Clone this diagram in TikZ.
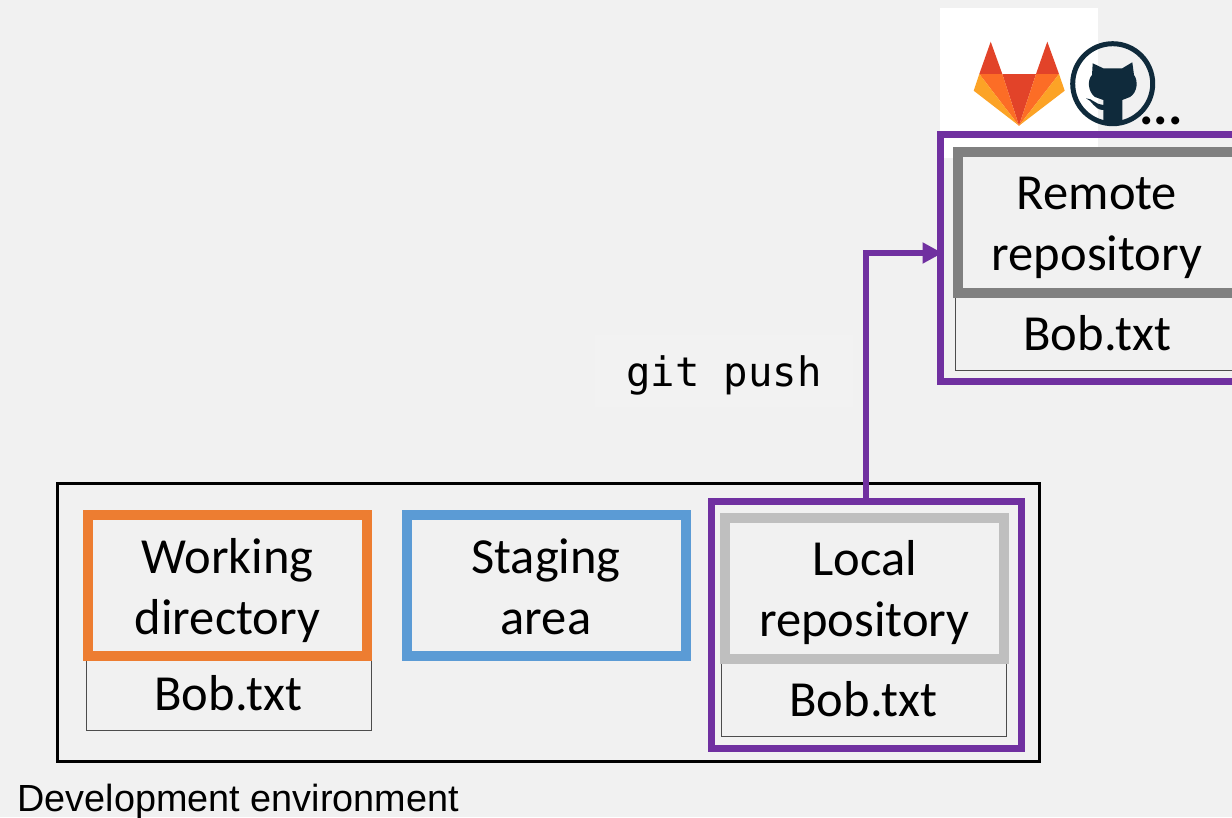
\documentclass[tikz,border=0pt]{standalone}
\usetikzlibrary{arrows.meta}
\usepackage{fontspec}
\setmainfont{Carlito}
\newfontfamily\labelfont{Liberation Sans}
\newfontfamily\cmdfont{DejaVu Sans Mono}
\definecolor{pagebg}{HTML}{F1F1F1}
\definecolor{gitpurple}{HTML}{7030A0}
\definecolor{workorange}{HTML}{ED7D31}
\definecolor{stageblue}{HTML}{5B9BD5}
\definecolor{labred}{HTML}{E24329}
\definecolor{laborange}{HTML}{FC6D26}
\definecolor{labyellow}{HTML}{FCA326}
\definecolor{hubnavy}{HTML}{0F2A3B}
\newcommand{\twolines}[2]{\rule{0pt}{46pt}#1\\#2\rule[-10pt]{0pt}{10pt}}
\begin{document}
\begin{tikzpicture}[x=1pt, y=-1pt,
    stagebox/.style={draw, fill=pagebg, line width=10pt, minimum width=279pt, minimum height=141pt, align=center, inner sep=0pt, font=\fontsize{50.5}{61}\selectfont},
    filebox/.style={draw=black!70, line width=1pt, minimum width=285pt, minimum height=80pt, text height=40pt, text depth=0pt, inner sep=0pt, font=\fontsize{50.5}{54}\selectfont},
    repoframe/.style={draw=gitpurple, line width=7pt, minimum width=310pt, minimum height=247pt}
]
    \fill[pagebg] (0,0) rectangle (1232,817);
    \useasboundingbox (0,0) rectangle (1232,817);

    % Logos
    \fill[white] (940,8) rectangle (1098,158);
    \fill[labred] (1002.3,74) -- (1036,74) -- (1019,125.7) -- cycle;
    \fill[labred] (979.3,74) -- (990.7,41.7) -- (1002.3,74) -- cycle;
    \fill[labred] (1036,74) -- (1047.3,41.7) -- (1059,74) -- cycle;
    \fill[laborange] (979.3,74) -- (1002.3,74) -- (1019,125.7) -- cycle;
    \fill[laborange] (1059,74) -- (1036,74) -- (1019,125.7) -- cycle;
    \fill[labyellow] (979.3,74) -- (973.7,90.7) -- (1019,125.7) -- cycle;
    \fill[labyellow] (1059,74) -- (1064.7,90.7) -- (1019,125.7) -- cycle;
    \draw[hubnavy, line width=5pt] (1112.7,83.7) circle (40);
    \fill[hubnavy] (1092.7,63.3) -- (1103.3,68.3) -- (1122.3,68.3) -- (1132.3,62.3) -- (1134,75)
        .. controls (1138,80) and (1138,92) .. (1130,97) -- (1122.3,100) -- (1122.3,122) -- (1103.3,122)
        -- (1103.3,110) .. controls (1094,110) and (1092,100) .. (1086,98.3)
        .. controls (1092,98) and (1096,105) .. (1103.3,105) -- (1103.3,100) -- (1095,97)
        .. controls (1088,92) and (1087,80) .. (1092,75) -- cycle;
    \node[font=\fontsize{54}{54}\selectfont\bfseries, anchor=base] (more) at (1161,124) {...};

    % Development environment
    \node[draw, line width=3pt, minimum width=982pt, minimum height=278pt, inner sep=0pt] (devenv) at (548,622) {};
    \node[font=\fontsize{37.8}{44}\selectfont\labelfont, anchor=base west] (devlabel) at (14,811) {Development environment};

    \node[filebox] (workfile) at (228.5,690) {Bob.txt};
    \node[stagebox, draw=workorange] (work) at (227.5,585.5) {\twolines{Working}{directory}};
    \node[stagebox, draw=stageblue] (stage) at (546,585.5) {\twolines{Staging}{area}};

    \node[repoframe] (localframe) at (866,624.5) {};
    \node[filebox] (localfile) at (863.5,696) {Bob.txt};
    \node[stagebox, draw=black!25] (localrepo) at (864.5,588) {\twolines{Local}{repository}};

    % Remote side runs off the page
    \node[repoframe] (remoteframe) at (1095,257.5) {};
    \node[filebox] (remotefile) at (1097.5,330) {Bob.txt};
    \node[stagebox, draw=black!50] (remoterepo) at (1097,222) {\twolines{Remote}{repository}};

    \node[fill=pagebg!90!white, font=\fontsize{40.6}{48}\selectfont\cmdfont, minimum width=258pt, minimum height=72pt, text depth=0pt, text height=31pt, inner sep=0pt] (pushcmd) at (724,371) {git push};
    \draw[-{Triangle[length=20pt,width=20pt]}, gitpurple, line width=6.5pt] (localframe.north) |- ([xshift=6pt, yshift=4.5pt]remoteframe.west);
\end{tikzpicture}
\end{document}
